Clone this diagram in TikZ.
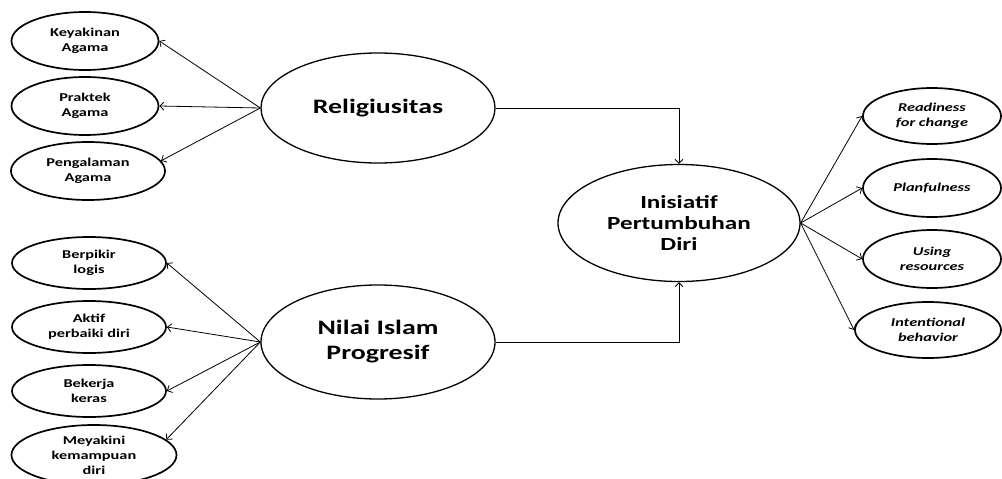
\documentclass[tikz,border=0pt]{standalone}
\usepackage{fontspec}
\setmainfont{Carlito}[FakeStretch=1.36,
  UprightFont=* ,BoldFont=* Bold,ItalicFont=* Italic,BoldItalicFont=* Bold Italic]
\usetikzlibrary{shapes.geometric,arrows.meta}
\begin{document}
\begin{tikzpicture}[x=1pt,y=-1pt,
  small/.style={ellipse,draw,line width=1.7pt,inner sep=0pt,align=center,
    font=\fontsize{12}{15}\selectfont\bfseries},
  smallit/.style={small,font=\fontsize{12}{15}\selectfont\bfseries\itshape},
  big/.style={ellipse,draw,line width=1.3pt,inner sep=0pt,align=center,
    minimum width=234pt,font=\fontsize{20.5}{25}\selectfont\bfseries},
  conn/.style={line width=0.8pt,-{Straight Barb[length=4pt,width=8pt]}}]
\useasboundingbox (0,0) rectangle (1002,479);
% left top group
\node[small,minimum width=147pt,minimum height=58pt] (keyakinan) at (85,41) {Keyakinan\\Agama};
\node[small,minimum width=147pt,minimum height=58pt] (praktek) at (85,106) {Praktek\\Agama};
\node[small,minimum width=154pt,minimum height=58pt] (pengalaman) at (88,171) {Pengalaman\\Agama};
% left bottom group
\node[small,minimum width=154pt,minimum height=52pt] (berpikir) at (89,263) {Berpikir\\logis};
\node[small,minimum width=154pt,minimum height=52pt] (aktif) at (89,327) {Aktif\\perbaiki diri};
\node[small,minimum width=154pt,minimum height=52pt] (bekerja) at (89,391) {Bekerja\\keras};
\node[small,minimum width=165pt,minimum height=60pt] (meyakini) at (94,455) {Meyakini\\kemampuan\\diri};
% big nodes
\node[big,minimum height=110pt] (relig) at (378,108) {Religiusitas};
\node[big,minimum height=114pt] (nilai) at (378,342) {Nilai Islam\\Progresif};
\node[big,minimum width=242pt,minimum height=117pt,font=\fontsize{18.5}{21}\selectfont\bfseries] (init) at (679,223) {Inisiatif\\Pertumbuhan\\Diri};
% right group
\node[smallit,minimum width=138pt,minimum height=56pt] (readiness) at (932,116) {Readiness\\for change};
\node[smallit,minimum width=138pt,minimum height=58pt] (plan) at (932,188) {Planfulness};
\node[smallit,minimum width=138pt,minimum height=58pt] (using) at (932,259) {Using\\resources};
\node[smallit,minimum width=146pt,minimum height=56pt] (intent) at (928,330) {Intentional\\behavior};
% connectors
\draw[conn] (relig.west) -- (keyakinan.east);
\draw[conn] (relig.west) -- (praktek.east);
\draw[conn] (relig.west) -- (pengalaman.8);
\draw[conn] (nilai.west) -- (berpikir.east);
\draw[conn] (nilai.west) -- (aktif.east);
\draw[conn] (nilai.west) -- (bekerja.east);
\draw[conn] (nilai.west) -- (meyakini.12);
\draw[conn] (relig.east) -| (init.north);
\draw[conn] (nilai.east) -| (init.south);
\draw[conn] (init.east) -- (readiness.west);
\draw[conn] (init.east) -- (plan.west);
\draw[conn] (init.east) -- (using.west);
\draw[conn] (init.east) -- (intent.west);
\end{tikzpicture}
\end{document}
